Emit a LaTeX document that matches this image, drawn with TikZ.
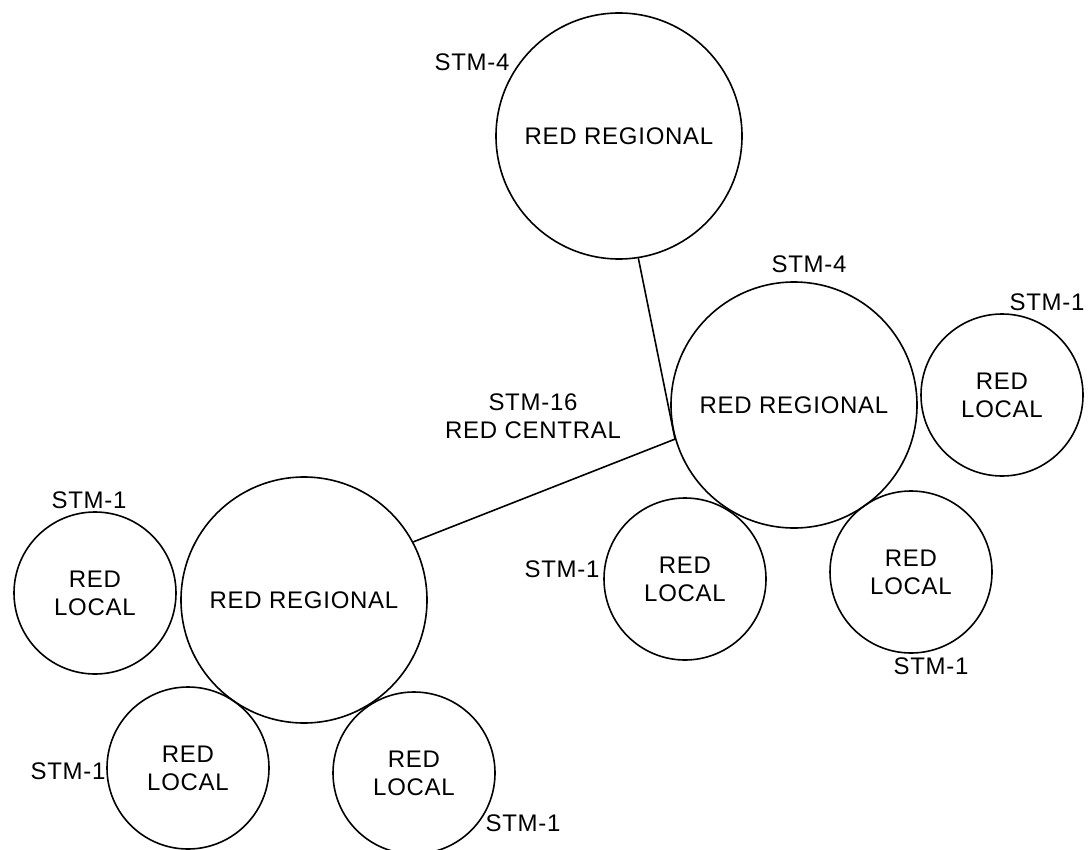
\documentclass[tikz,border=0pt]{standalone}
\usepackage{fontspec}
\setmainfont[LetterSpace=3]{Liberation Sans}
\begin{document}
\begin{tikzpicture}[x=1pt,y=-1pt,
  net/.style={circle,draw,line width=1.6pt,inner sep=0pt,align=center,
    font=\fontsize{24}{28}\selectfont},
  regional/.style={net,minimum size=246pt},
  localnet/.style={net,minimum size=162pt},
  tag/.style={inner sep=0pt,align=center,font=\fontsize{24}{28}\selectfont},
  link/.style={line width=1.6pt}]
\useasboundingbox (0,0) rectangle (1091,850);

% regional rings
\node[regional] (regtop)   at (619,136) {RED REGIONAL};
\node[regional] (regright) at (794,405) {RED REGIONAL};
\node[regional] (regleft)  at (304,600) {RED REGIONAL};

% local rings
\node[localnet] (locrt)  at (1002,395) {RED\\LOCAL};
\node[localnet] (locrm)  at (685,579)  {RED\\LOCAL};
\node[localnet] (locrb)  at (911,572)  {RED\\LOCAL};
\node[localnet] (loclt)  at (95,593)   {RED\\LOCAL};
\node[localnet] (loclb)  at (188,768)  {RED\\LOCAL};
\node[localnet] (loclbr) at (414,773)  {RED\\LOCAL};

% links between regional rings
\draw[link] (regtop.-81) -- (regright.196);
\draw[link] (regleft.28) -- (regright.196);

% ring capacities
\node[tag] (ttop)    at (472,62)  {STM-4};
\node[tag] (tright)  at (809,264) {STM-4};
\node[tag] (trt)     at (1047,302) {STM-1};
\node[tag] (tcentral) at (533,416) {STM-16\\RED CENTRAL};
\node[tag] (trm)     at (562,569) {STM-1};
\node[tag] (trb)     at (931,666) {STM-1};
\node[tag] (tlt)     at (89,500)  {STM-1};
\node[tag] (tlb)     at (68,771)  {STM-1};
\node[tag] (tlbr)    at (523,823) {STM-1};
\end{tikzpicture}
\end{document}
